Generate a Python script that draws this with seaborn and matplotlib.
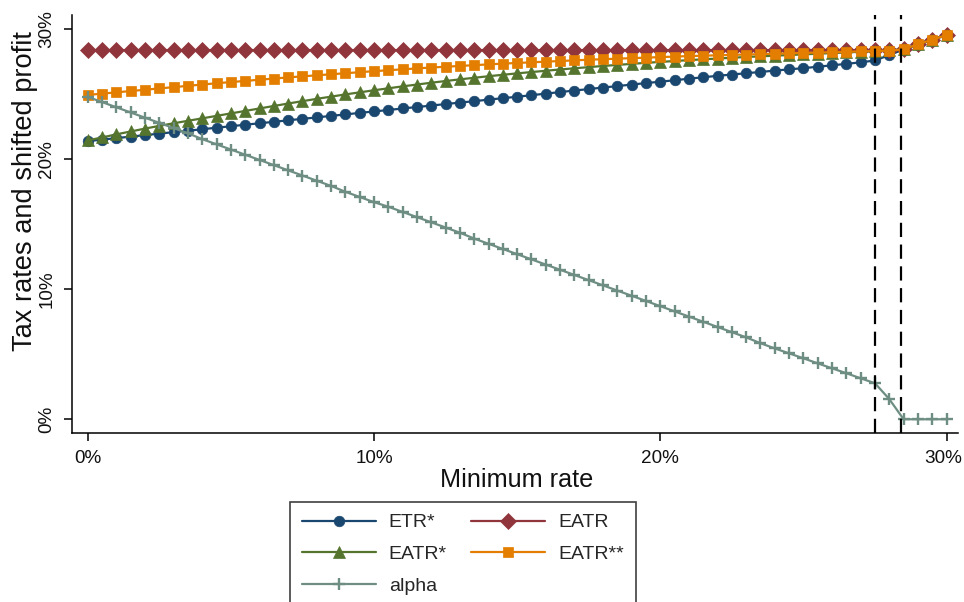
import matplotlib
matplotlib.use("Agg")
import matplotlib.pyplot as plt
import matplotlib.transforms as mtransforms
import seaborn as sns
import pandas as pd
from matplotlib.ticker import FuncFormatter

# Minimum tax rate grid (percent)
min_rate = [i * 0.5 for i in range(61)]

etr_star = [
    21.40, 21.51, 21.63, 21.74, 21.86, 21.97, 22.09, 22.20, 22.31, 22.43, 22.54,
    22.66, 22.77, 22.88, 23.00, 23.11, 23.22, 23.34, 23.45, 23.57, 23.68,
    23.79, 23.91, 24.02, 24.13, 24.25, 24.36, 24.47, 24.59, 24.70, 24.81,
    24.93, 25.05, 25.17, 25.29, 25.40, 25.52, 25.63, 25.75, 25.86, 25.97,
    26.08, 26.20, 26.31, 26.42, 26.52, 26.62, 26.72, 26.82, 26.92, 27.01,
    27.12, 27.23, 27.34, 27.46, 27.60, 28.02, 28.45, 28.85, 29.20, 29.56,
]

eatr = [28.40] * 57 + [28.45, 28.85, 29.20, 29.56]

eatr_star = [
    21.45, 21.68, 21.92, 22.14, 22.36, 22.57, 22.77, 22.96, 23.15, 23.34, 23.53,
    23.72, 23.91, 24.10, 24.29, 24.47, 24.65, 24.82, 24.99, 25.15, 25.31,
    25.46, 25.61, 25.75, 25.89, 26.02, 26.15, 26.27, 26.39, 26.50, 26.61,
    26.71, 26.81, 26.91, 27.00, 27.09, 27.18, 27.26, 27.34, 27.42, 27.49,
    27.56, 27.63, 27.69, 27.75, 27.81, 27.87, 27.92, 27.97, 28.02, 28.07,
    28.12, 28.17, 28.22, 28.27, 28.32, 28.37, 28.45, 28.85, 29.20, 29.56,
]

eatr_2star = [
    24.95, 25.05, 25.15, 25.25, 25.35, 25.45, 25.55, 25.65, 25.75, 25.85, 25.94,
    26.03, 26.12, 26.21, 26.30, 26.38, 26.46, 26.54, 26.62, 26.70, 26.78,
    26.85, 26.92, 26.99, 27.06, 27.12, 27.18, 27.24, 27.30, 27.36, 27.41,
    27.46, 27.51, 27.56, 27.61, 27.66, 27.70, 27.74, 27.78, 27.82, 27.86,
    27.90, 27.94, 27.97, 28.00, 28.03, 28.06, 28.09, 28.12, 28.15, 28.18,
    28.21, 28.24, 28.27, 28.30, 28.33, 28.36, 28.45, 28.85, 29.20, 29.56,
]

alpha = [
    24.80, 24.40, 24.00, 23.60, 23.20, 22.80, 22.40, 22.00, 21.55, 21.15, 20.75,
    20.35, 19.95, 19.55, 19.15, 18.75, 18.35, 17.95, 17.50, 17.10, 16.70,
    16.35, 15.95, 15.55, 15.15, 14.75, 14.35, 13.90, 13.50, 13.10, 12.70,
    12.30, 11.90, 11.50, 11.10, 10.70, 10.30, 9.90, 9.50, 9.10, 8.70,
    8.30, 7.90, 7.50, 7.10, 6.70, 6.30, 5.85, 5.45, 5.07, 4.69,
    4.30, 3.92, 3.54, 3.15, 2.77, 1.55, 0.00, 0.00, 0.00, 0.00,
]

# Kink points of the minimum-rate schedule
thresholds = [27.5, 28.4]

x_ticks = [0, 10, 20, 30]
y_ticks = [0, 10, 20, 30]

series = [
    ("ETR*", etr_star, "#1a476f", "o", 7.6),
    ("EATR", eatr, "#90353b", "D", 7.8),
    ("EATR*", eatr_star, "#55752f", "^", 8.6),
    ("EATR**", eatr_2star, "#e37e00", "s", 7.4),
    ("alpha", alpha, "#6e8e84", "+", 8.5),
]

sns.set_theme(style="white")
plt.rcParams["font.family"] = ["Liberation Sans", "DejaVu Sans"]

fig = plt.figure(figsize=(9.64, 6.02), dpi=100)
ax = fig.add_axes([72 / 964, 1 - 433.3 / 602, 886 / 964, (433.3 - 15) / 602])

handles = {}
for name, vals, color, marker, ms in series:
    df = pd.DataFrame({"rate": min_rate, "value": vals})
    sns.lineplot(data=df, x="rate", y="value", ax=ax, color=color, marker=marker,
                 markersize=ms, markeredgecolor=color,
                 markeredgewidth=1.7 if marker == "+" else 0.5,
                 linewidth=1.6, label=name, legend=False)
    handles[name] = ax.lines[-1]

for t in thresholds:
    ax.axvline(t, color="black", linewidth=1.6, linestyle=(0, (6.4, 3.4)), zorder=5)

ax.set_xlim(-0.55, 30.4)
ax.set_ylim(-1.08, 31.1)
ax.set_xticks(x_ticks)
ax.set_yticks(y_ticks)
pct = FuncFormatter(lambda v, p: f"{v:.0f}%")
ax.xaxis.set_major_formatter(pct)
ax.yaxis.set_major_formatter(pct)
for lab in ax.get_yticklabels():
    lab.set_rotation(90)
    lab.set_va("center")

ax.tick_params(axis="both", direction="out", length=6, width=1.1, color="black",
               labelsize=13.6, labelcolor="#111111", pad=6, left=True, bottom=True)
for side in ["top", "right"]:
    ax.spines[side].set_visible(False)
for side in ["left", "bottom"]:
    ax.spines[side].set_color("black")
    ax.spines[side].set_linewidth(1.1)

# keep the last x tick label inside the canvas
last = ax.get_xticklabels()[-1]
last.set_transform(last.get_transform() +
                   mtransforms.ScaledTranslation(-3 / 100, 0, fig.dpi_scale_trans))

ax.set_xlabel("Minimum rate", fontsize=18.2, color="#111111")
ax.set_ylabel("Tax rates and shifted profit", fontsize=19.6, color="#111111")
ax.xaxis.set_label_coords(0.502, -0.082)
ax.yaxis.set_label_coords(-0.038, 0.58)
ax.grid(False)

order = ["ETR*", "EATR*", "alpha", "EATR", "EATR**"]
leg = fig.legend([handles[n] for n in order], order, ncol=2, loc="upper left",
                 bbox_to_anchor=(290 / 964, 1 - 501.7 / 602), borderaxespad=0,
                 fontsize=14.0, handlelength=3.8, handletextpad=0.66,
                 columnspacing=1.25, labelspacing=0.72, borderpad=0.62,
                 fancybox=False, framealpha=1, edgecolor="#404040", numpoints=1)
leg.get_frame().set_linewidth(1.2)

fig.savefig("out.png", dpi=100)
